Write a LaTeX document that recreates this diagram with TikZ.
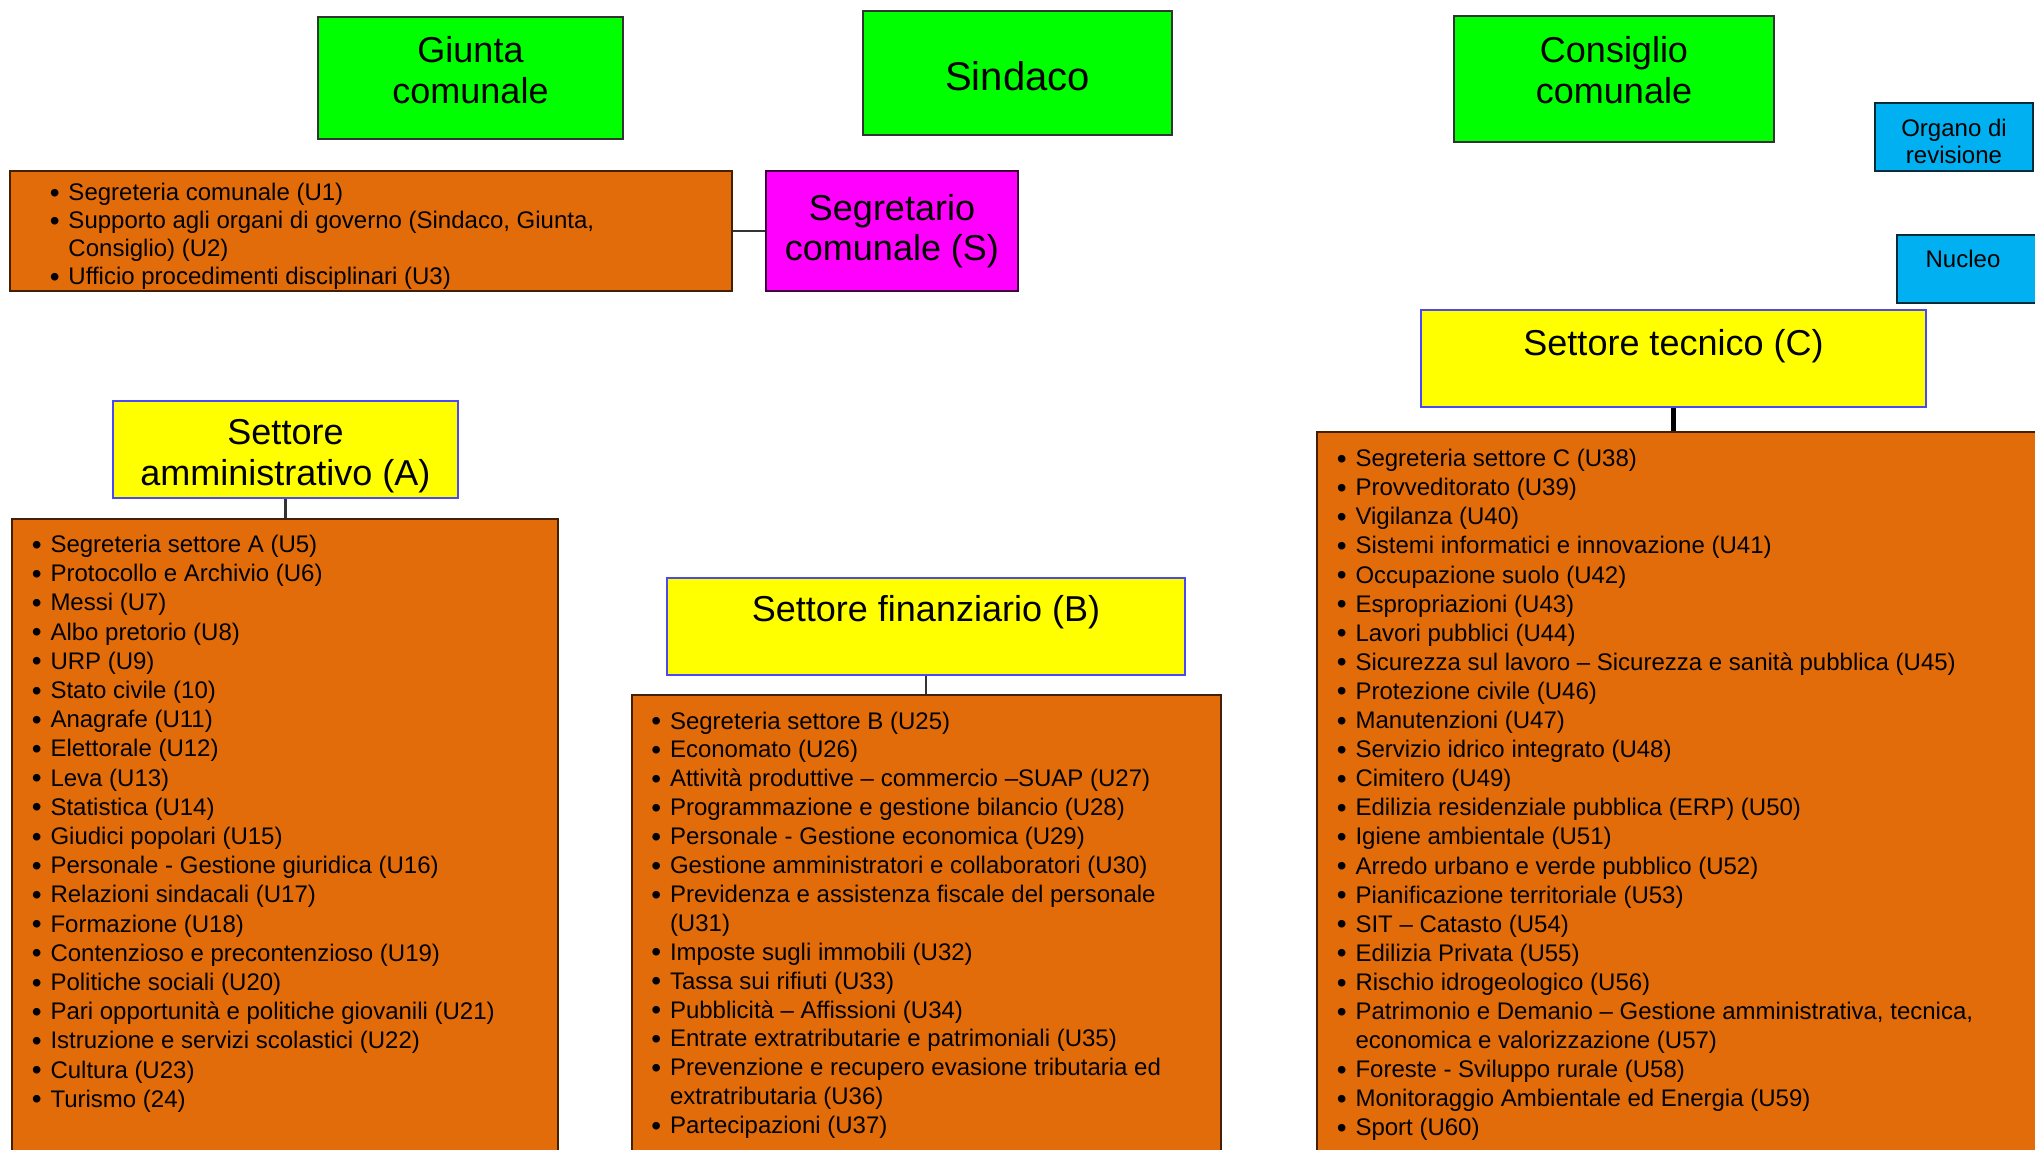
\documentclass[tikz,border=0pt]{standalone}
\usepackage{fontspec}
\setmainfont{Liberation Sans}
\usepackage{xcolor}
\definecolor{verde}{HTML}{00FF00}
\definecolor{giallo}{HTML}{FFFF00}
\definecolor{arancio}{HTML}{E36C0A}
\definecolor{azzurro}{HTML}{00B0F0}
\definecolor{fucsia}{HTML}{FF00FF}
\definecolor{bordoblu}{HTML}{4A4AF0}
\newcommand{\voce}[1]{\makebox[9.3pt][l]{\raisebox{-0.8pt}{\fontsize{14pt}{14pt}\selectfont •}}#1\par}
\newcommand{\acapo}{\\\hspace*{9.3pt}}

\tikzset{
  box/.style={draw, line width=1pt, inner sep=0pt},
  organo/.style={box, fill=verde, draw=black!80},
  segretario/.style={box, fill=fucsia, draw=black!75!fucsia},
  settore/.style={box, fill=giallo, draw=bordoblu},
  uffici/.style={box, fill=arancio, draw=black!70!arancio},
  revisori/.style={box, fill=azzurro, draw=black!75!azzurro},
  titolo/.style={align=center, inner sep=0pt, font=\fontsize{18pt}{20.75pt}\selectfont},
  lista/.style={anchor=base west, inner sep=0pt},
  link/.style={draw=black!80, line width=1.2pt}
}

\begin{document}
\begin{tikzpicture}[x=0.5pt, y=-0.5pt]
  \useasboundingbox (0,0) rectangle (2035,1150);
  \clip (0,0) rectangle (2035,1150);

  \node[organo, minimum width=152.5pt, minimum height=61pt] (giunta) at (470.5,78) {};
  \node[titolo] (giuntaT) at (470.5,70) {Giunta\\comunale};
  \node[organo, minimum width=154.5pt, minimum height=62pt] (sindaco) at (1017.5,73) {};
  \node[titolo, font=\fontsize{20pt}{22pt}\selectfont] (sindacoT) at (1017.5,76) {Sindaco};
  \node[organo, minimum width=160pt, minimum height=63pt] (consiglio) at (1614,79) {};
  \node[titolo] (consiglioT) at (1614,70) {Consiglio\\comunale};

  \node[revisori, minimum width=79pt, minimum height=34pt] (revisione) at (1954,137) {};
  \node[titolo, font=\fontsize{12pt}{13.5pt}\selectfont] (revisioneT) at (1954,141) {Organo di\\revisione};
  \node[revisori, minimum width=81.5pt, minimum height=34pt] (nucleo) at (1978.5,269) {};
  \node[titolo, font=\fontsize{12pt}{13.5pt}\selectfont] (nucleoT) at (1963,259) {Nucleo};

  \node[uffici, minimum width=361pt, minimum height=60pt] (listS) at (371,231) {};
  \node[segretario, minimum width=126pt, minimum height=60pt] (segr) at (892,231) {};
  \node[titolo, font=\fontsize{18pt}{20pt}\selectfont] (segrT) at (892,231) {Segretario\\comunale (S)};
  \node[lista, font=\fontsize{12pt}{14pt}\selectfont] (listStxt) at (49.5,201) {\begin{minipage}[t]{340pt}
    \voce{Segreteria comunale (U1)}
    \voce{Supporto agli organi di governo (Sindaco, Giunta,\acapo Consiglio) (U2)}
    \voce{Ufficio procedimenti disciplinari (U3)}
  \end{minipage}};
  \draw[link] (listS) -- (segr);

  \node[settore, minimum width=172.5pt, minimum height=48.5pt] (setA) at (285.5,449.5) {};
  \node[titolo, font=\fontsize{18pt}{20.25pt}\selectfont] (setAT) at (285.5,456) {Settore\\amministrativo (A)};
  \node[uffici, minimum width=273pt, minimum height=340.5pt] (listA) at (285,859.5) {};
  \node[lista, font=\fontsize{12pt}{14.6pt}\selectfont] (listAtxt) at (31.5,552.5) {\begin{minipage}[t]{260pt}
    \voce{Segreteria settore A (U5)}
    \voce{Protocollo e Archivio (U6)}
    \voce{Messi (U7)}
    \voce{Albo pretorio (U8)}
    \voce{URP (U9)}
    \voce{Stato civile (10)}
    \voce{Anagrafe (U11)}
    \voce{Elettorale (U12)}
    \voce{Leva (U13)}
    \voce{Statistica (U14)}
    \voce{Giudici popolari (U15)}
    \voce{Personale - Gestione giuridica (U16)}
    \voce{Relazioni sindacali (U17)}
    \voce{Formazione (U18)}
    \voce{Contenzioso e precontenzioso (U19)}
    \voce{Politiche sociali (U20)}
    \voce{Pari opportunità e politiche giovanili (U21)}
    \voce{Istruzione e servizi scolastici (U22)}
    \voce{Cultura (U23)}
    \voce{Turismo (24)}
  \end{minipage}};
  \draw[link] (setA.south) -- (setA.south |- listA.north);

  \node[settore, minimum width=259pt, minimum height=48.5pt] (setB) at (926,626.5) {};
  \node[titolo] (setBT) at (926,612) {Settore finanziario (B)};
  \node[uffici, minimum width=294.5pt, minimum height=252.5pt] (listB) at (926.5,947.5) {};
  \node[lista, font=\fontsize{12pt}{14.45pt}\selectfont] (listBtxt) at (651,729) {\begin{minipage}[t]{300pt}
    \voce{Segreteria settore B (U25)}
    \voce{Economato (U26)}
    \voce{Attività produttive – commercio –SUAP (U27)}
    \voce{Programmazione e gestione bilancio (U28)}
    \voce{Personale - Gestione economica (U29)}
    \voce{Gestione amministratori e collaboratori (U30)}
    \voce{Previdenza e assistenza fiscale del personale\acapo (U31)}
    \voce{Imposte sugli immobili (U32)}
    \voce{Tassa sui rifiuti (U33)}
    \voce{Pubblicità – Affissioni (U34)}
    \voce{Entrate extratributarie e patrimoniali (U35)}
    \voce{Prevenzione e recupero evasione tributaria ed\acapo extratributaria (U36)}
    \voce{Partecipazioni (U37)}
  \end{minipage}};
  \draw[link] (setB.south) -- (setB.south |- listB.north);

  \node[settore, minimum width=252.5pt, minimum height=48.5pt] (setC) at (1673.5,358.5) {};
  \node[titolo] (setCT) at (1673.5,346) {Settore tecnico (C)};
  \node[uffici, minimum width=391.5pt, minimum height=384pt] (listC) at (1708.5,816) {};
  \node[lista, font=\fontsize{12pt}{14.55pt}\selectfont] (listCtxt) at (1336.5,466.6) {\begin{minipage}[t]{380pt}
    \voce{Segreteria settore C (U38)}
    \voce{Provveditorato (U39)}
    \voce{Vigilanza (U40)}
    \voce{Sistemi informatici e innovazione (U41)}
    \voce{Occupazione suolo (U42)}
    \voce{Espropriazioni (U43)}
    \voce{Lavori pubblici (U44)}
    \voce{Sicurezza sul lavoro – Sicurezza e sanità pubblica (U45)}
    \voce{Protezione civile (U46)}
    \voce{Manutenzioni (U47)}
    \voce{Servizio idrico integrato (U48)}
    \voce{Cimitero (U49)}
    \voce{Edilizia residenziale pubblica (ERP) (U50)}
    \voce{Igiene ambientale (U51)}
    \voce{Arredo urbano e verde pubblico (U52)}
    \voce{Pianificazione territoriale (U53)}
    \voce{SIT – Catasto (U54)}
    \voce{Edilizia Privata (U55)}
    \voce{Rischio idrogeologico (U56)}
    \voce{Patrimonio e Demanio – Gestione amministrativa, tecnica,\acapo economica e valorizzazione (U57)}
    \voce{Foreste - Sviluppo rurale (U58)}
    \voce{Monitoraggio Ambientale ed Energia (U59)}
    \voce{Sport (U60)}
  \end{minipage}};
  \draw[link, draw=black, line width=2.5pt] (setC.south) -- (setC.south |- listC.north);
\end{tikzpicture}
\end{document}
